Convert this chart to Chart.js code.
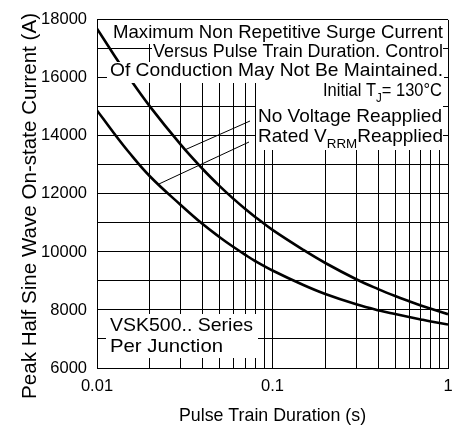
<!DOCTYPE html>
<html>
<head>
<meta charset="utf-8">
<script src="https://cdn.jsdelivr.net/npm/chart.js@4.4.1/dist/chart.umd.min.js"></script>
<style>
  html, body { margin: 0; padding: 0; background: #fff; }
</style>
</head>
<body>
<canvas id="surgeChart" width="465" height="428"></canvas>
<script>
// pulse train duration (s) and peak surge current (A)
const pulseDuration      = [0.01, 0.0125, 0.015, 0.02, 0.03, 0.04, 0.05, 0.06, 0.07, 0.08, 0.1, 0.15, 0.2, 0.3, 0.4, 0.5, 0.6, 0.7, 0.8, 1];
const noVoltageReapplied = [17700, 16790, 16070, 15020, 13700, 12860, 12270, 11830, 11480, 11200, 10760, 10070, 9620, 9060, 8720, 8480, 8300, 8155, 8040, 7855];
const ratedVrrmReapplied = [14880, 14090, 13480, 12610, 11620, 10960, 10510, 10170, 9900, 9680, 9360, 8860, 8550, 8195, 7990, 7860, 7760, 7675, 7605, 7500];

const xDecades    = [0.01, 0.1, 1];
const xTickLabels = ["0.01", "0.1", "1"];
const yLabelled   = [6000, 8000, 10000, 12000, 14000, 16000, 18000];

// where the two leader lines touch the curves (duration, current)
const leaderNoVoltage = [0.0317, 13520];
const leaderRated     = [0.0223, 12330];

const FONT = '"Liberation Sans", Arial, Helvetica, sans-serif';
Chart.defaults.font.family = FONT;
Chart.defaults.color = "#000";

function toPoints(xs, ys) {
    return xs.map((v, i) => ({ x: v, y: ys[i] }));
}

// draws runs of text (some subscripted) stretched to fit left..right
function fitLine(ctx, runs, left, right, base, size) {
    let total = 0;
    runs.forEach(r => {
        ctx.font = (r.sub ? 13 : size) + "px " + FONT;
        r.w = ctx.measureText(r.t).width;
        total += r.w;
    });
    ctx.save();
    ctx.translate(left, base);
    ctx.scale((right - left) / total, 1);
    let cx = 0;
    runs.forEach(r => {
        ctx.font = (r.sub ? 13 : size) + "px " + FONT;
        ctx.fillText(r.t, cx, r.sub ? 6 : 0);
        cx += r.w;
    });
    ctx.restore();
}

const notesPlugin = {
    id: "notes",
    afterDatasetsDraw(chart) {
        const { ctx, scales: { x, y } } = chart;
        ctx.save();

        // white panels behind the notes
        ctx.fillStyle = "#fff";
        ctx.fillRect(110, 20, 336, 24);
        ctx.fillRect(152, 44, 291, 18);
        ctx.fillRect(107, 62, 337, 21);
        ctx.fillRect(256, 83, 187, 67);
        ctx.fillRect(106, 314, 152, 44);

        ctx.fillStyle = "#000";
        ctx.textAlign = "left";
        ctx.textBaseline = "alphabetic";
        fitLine(ctx, [{ t: "Maximum Non Repetitive Surge Current" }], 113, 443, 38, 18.5);
        fitLine(ctx, [{ t: "Versus Pulse Train Duration. Control" }], 153, 443, 57, 18.5);
        fitLine(ctx, [{ t: "Of Conduction May Not Be Maintained." }], 110, 443, 76, 18.5);
        fitLine(ctx, [{ t: "Initial T" }, { t: "J", sub: true }, { t: "= 130°C" }], 323, 442, 96, 18.5);
        fitLine(ctx, [{ t: "No Voltage Reapplied" }], 258, 442, 122, 18.5);
        fitLine(ctx, [{ t: "Rated V" }, { t: "RRM", sub: true }, { t: "Reapplied" }], 258, 443, 142, 18.5);
        fitLine(ctx, [{ t: "VSK500.. Series" }], 110, 253, 331, 18.5);
        fitLine(ctx, [{ t: "Per Junction" }], 110, 223, 352, 18.5);

        // leader lines from the curves to their labels
        ctx.strokeStyle = "#000";
        ctx.lineWidth = 1;
        ctx.beginPath();
        ctx.moveTo(x.getPixelForValue(leaderNoVoltage[0]), y.getPixelForValue(leaderNoVoltage[1]));
        ctx.lineTo(250, 121);
        ctx.moveTo(x.getPixelForValue(leaderRated[0]), y.getPixelForValue(leaderRated[1]));
        ctx.lineTo(249, 142);
        ctx.stroke();

        ctx.restore();
    },
    afterDraw(chart) {
        // vertical axis title
        const ctx = chart.ctx;
        ctx.save();
        ctx.fillStyle = "#000";
        ctx.translate(36, 399);
        ctx.rotate(-Math.PI / 2);
        fitLine(ctx, [{ t: "Peak Half Sine Wave On-state Current (A)" }], 0, 386, 0, 20.5);
        ctx.restore();
    }
};

new Chart(document.getElementById("surgeChart"), {
    type: "line",
    data: {
        datasets: [
            {
                label: "No Voltage Reapplied",
                data: toPoints(pulseDuration, noVoltageReapplied),
                borderColor: "#000",
                borderWidth: 2.6,
                pointRadius: 0,
                tension: 0.4
            },
            {
                label: "Rated VRRM Reapplied",
                data: toPoints(pulseDuration, ratedVrrmReapplied),
                borderColor: "#000",
                borderWidth: 2.6,
                pointRadius: 0,
                tension: 0.4
            }
        ]
    },
    options: {
        responsive: false,
        animation: false,
        events: [],
        layout: { padding: { top: 17, right: 17, left: 0, bottom: 0 } },
        plugins: { legend: { display: false }, tooltip: { enabled: false } },
        scales: {
            x: {
                type: "logarithmic",
                min: 0.01,
                max: 1,
                afterBuildTicks: (scale) => {
                    const ticks = [];
                    for (let d = 0; d < xDecades.length - 1; d++) {
                        for (let m = 1; m < 10; m++) {
                            ticks.push({ value: +(xDecades[d] * m).toPrecision(3) });
                        }
                    }
                    ticks.push({ value: xDecades[xDecades.length - 1] });
                    scale.ticks = ticks;
                },
                afterFit: (scale) => { scale.height = 60; },
                ticks: {
                    autoSkip: false,
                    maxRotation: 0,
                    padding: 9,
                    font: { size: 16.5 },
                    callback: (value) => {
                        const i = xDecades.indexOf(value);
                        return i >= 0 ? xTickLabels[i] : "";
                    }
                },
                grid: { color: "#000", lineWidth: 1, drawTicks: false },
                border: { color: "#000", width: 1 },
                title: {
                    display: true,
                    text: "Pulse Train Duration (s)",
                    font: { size: 17.8 },
                    padding: { top: 0, bottom: 1 }
                }
            },
            y: {
                min: 6000,
                max: 18000,
                afterFit: (scale) => { scale.width = 97; },
                ticks: {
                    stepSize: 1000,
                    padding: 10,
                    font: { size: 16.5 },
                    callback: (value) => yLabelled.includes(value) ? String(value) : ""
                },
                grid: { color: "#000", lineWidth: 1, drawTicks: false },
                border: { color: "#000", width: 1 }
            }
        }
    },
    plugins: [notesPlugin]
});
</script>
</body>
</html>
